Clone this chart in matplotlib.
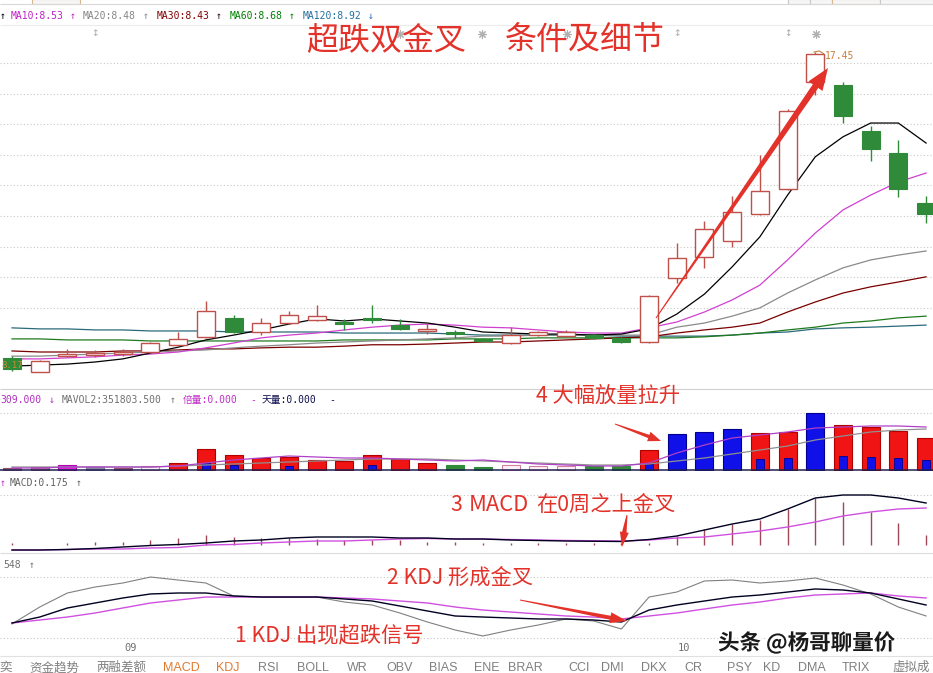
import numpy as np
import matplotlib
matplotlib.use("Agg")
import matplotlib.pyplot as plt
from matplotlib.patches import Polygon, Rectangle
from matplotlib.transforms import blended_transform_factory
import matplotlib.patheffects as pe

# ---------------- daily bars ----------------
opens  = [8.58, 8.18, 8.63, 8.66, 8.69, 8.75, 8.95, 9.18, 9.74, 9.33, 9.59, 9.68,
          9.62, 9.74, 9.53, 9.36, 9.33, 9.13, 9.01, 9.24, 9.21, 9.24, 9.16, 9.04,
          10.90, 11.51, 11.97, 12.75, 13.48, 16.58, 16.49, 15.16, 14.52, 13.07]
highs  = [8.63, 8.52, 8.84, 8.81, 8.84, 9.04, 9.33, 10.23, 9.82, 9.74, 9.94, 10.11,
          9.71, 10.11, 9.71, 9.59, 9.39, 9.16, 9.48, 9.36, 9.39, 9.27, 9.18, 10.40,
          11.91, 12.55, 13.27, 14.46, 15.80, 17.45, 16.58, 15.30, 14.90, 13.27]
lows   = [8.20, 8.17, 8.60, 8.61, 8.63, 8.72, 8.92, 9.16, 9.30, 9.24, 9.56, 9.65,
          9.39, 9.59, 9.39, 9.27, 9.16, 9.04, 8.98, 9.21, 9.18, 9.13, 9.01, 9.01,
          10.75, 11.19, 11.80, 12.72, 13.45, 16.20, 15.39, 14.29, 13.25, 12.49]
closes = [8.26, 8.49, 8.69, 8.72, 8.75, 9.01, 9.13, 9.94, 9.33, 9.59, 9.82, 9.79,
          9.56, 9.68, 9.42, 9.42, 9.27, 9.07, 9.24, 9.33, 9.33, 9.16, 9.04, 10.37,
          11.48, 12.32, 12.81, 13.42, 15.74, 17.40, 15.59, 14.64, 13.48, 12.75]

# moving averages of price
ma5   = [8.34, 8.37, 8.40, 8.46, 8.55, 8.72, 8.89, 9.10, 9.24, 9.39, 9.56, 9.71,
         9.65, 9.71, 9.65, 9.59, 9.47, 9.33, 9.30, 9.27, 9.27, 9.24, 9.27, 9.42,
         9.85, 10.43, 11.22, 12.09, 13.30, 14.41, 14.99, 15.39, 15.39, 14.81]
ma10  = [8.55, 8.55, 8.58, 8.61, 8.66, 8.69, 8.75, 8.87, 9.01, 9.16, 9.24, 9.30,
         9.39, 9.47, 9.53, 9.56, 9.53, 9.47, 9.45, 9.39, 9.33, 9.30, 9.30, 9.45,
         9.62, 9.91, 10.26, 10.69, 11.42, 12.20, 12.87, 13.30, 13.68, 13.94]
ma20  = [8.63, 8.63, 8.66, 8.69, 8.72, 8.75, 8.78, 8.81, 8.87, 8.92, 8.96, 9.01,
         9.04, 9.07, 9.10, 9.13, 9.16, 9.21, 9.21, 9.24, 9.24, 9.24, 9.24, 9.24,
         9.47, 9.59, 9.79, 10.03, 10.46, 10.84, 11.19, 11.42, 11.56, 11.68]
ma30  = [8.78, 8.75, 8.75, 8.75, 8.78, 8.78, 8.81, 8.84, 8.84, 8.87, 8.89, 8.89,
         8.92, 8.96, 8.96, 8.98, 9.01, 9.04, 9.04, 9.07, 9.10, 9.13, 9.16, 9.19,
         9.30, 9.39, 9.47, 9.59, 9.91, 10.20, 10.46, 10.64, 10.78, 10.93]
ma60  = [9.13, 9.13, 9.10, 9.10, 9.10, 9.07, 9.07, 9.07, 9.07, 9.07, 9.07, 9.07,
         9.10, 9.10, 9.10, 9.10, 9.13, 9.13, 9.13, 9.16, 9.16, 9.16, 9.16, 9.16,
         9.16, 9.19, 9.24, 9.30, 9.39, 9.47, 9.59, 9.65, 9.74, 9.79]
ma120 = [9.45, 9.42, 9.42, 9.39, 9.39, 9.36, 9.36, 9.36, 9.33, 9.33, 9.33, 9.33,
         9.30, 9.30, 9.30, 9.30, 9.27, 9.24, 9.24, 9.24, 9.24, 9.24, 9.21, 9.21,
         9.21, 9.21, 9.24, 9.30, 9.33, 9.42, 9.45, 9.47, 9.50, 9.53]

# ---------------- volume ----------------
volume = [200000, 300000, 500000, 300000, 200000, 400000, 700000, 2100000, 1500000,
          1200000, 1300000, 1000000, 900000, 1500000, 1100000, 700000, 500000, 300000,
          500000, 400000, 400000, 400000, 400000, 2000000, 3600000, 3800000, 4100000,
          3700000, 3800000, 5700000, 4500000, 4300000, 3900000, 3200000]
volume_inner = [0, 0, 0, 0, 0, 0, 0, 700000, 500000, 0, 400000, 0, 0, 500000, 0, 0,
                0, 0, 0, 0, 0, 0, 0, 600000, 0, 0, 0, 1100000, 1200000, 0, 1400000,
                1300000, 1200000, 1000000]
volume_kind = ['d', 'd', 'm', 's', 'd', 'p', 'r', 'r', 'r', 'r', 'r', 'r', 'r', 'r',
               'r', 'r', 'g', 'g', 'p', 'p', 'p', 'g', 'g', 'r', 'b', 'b', 'b', 'r',
               'r', 'b', 'r', 'r', 'r', 'r']
mavol1 = [200000, 200000, 300000, 300000, 300000, 300000, 400000, 700000, 1000000,
          1200000, 1400000, 1300000, 1200000, 1200000, 1100000, 1000000, 900000,
          1000000, 800000, 600000, 500000, 400000, 400000, 700000, 1700000, 2500000,
          3200000, 3500000, 3800000, 4200000, 4300000, 4400000, 4400000, 4300000]
mavol2 = [300000, 300000, 300000, 300000, 300000, 300000, 400000, 500000, 600000,
          700000, 800000, 900000, 1000000, 1100000, 1100000, 1100000, 1000000, 900000,
          800000, 700000, 600000, 500000, 500000, 600000, 900000, 1200000, 1600000,
          2000000, 2400000, 3000000, 3400000, 3800000, 4000000, 4100000]

# ---------------- MACD ----------------
dif  = [-0.20, -0.20, -0.18, -0.14, -0.08, -0.02, 0.02, 0.08, 0.16, 0.20, 0.28, 0.32,
        0.32, 0.32, 0.28, 0.28, 0.24, 0.24, 0.20, 0.18, 0.16, 0.15, 0.14, 0.22,
        0.36, 0.60, 0.84, 1.04, 1.44, 1.88, 2.00, 2.00, 1.88, 1.68]
dea  = [-0.20, -0.20, -0.18, -0.16, -0.16, -0.12, -0.10, 0.00, 0.02, 0.08, 0.12, 0.16,
        0.16, 0.20, 0.24, 0.26, 0.24, 0.24, 0.22, 0.20, 0.18, 0.17, 0.16, 0.20,
        0.28, 0.32, 0.44, 0.56, 0.72, 0.92, 1.16, 1.32, 1.44, 1.48]
macd = [0.08, 0.00, 0.08, 0.12, 0.12, 0.20, 0.28, 0.40, 0.32, 0.28, 0.28, 0.24,
        0.20, 0.20, 0.20, 0.12, 0.12, 0.08, 0.08, 0.08, 0.08, 0.08, 0.08, 0.08,
        0.36, 0.64, 0.84, 1.00, 1.44, 1.88, 1.72, 1.32, 0.88, 0.40]

# ---------------- KDJ ----------------
k_line = [24.6, 34.4, 49.2, 57.4, 65.6, 72.2, 73.8, 73.8, 68.9, 67.2, 67.2, 67.2,
          64.0, 60.7, 52.5, 44.3, 36.1, 34.4, 32.8, 31.2, 31.2, 29.5, 26.2, 45.9,
          54.1, 60.7, 67.2, 70.5, 75.4, 80.4, 78.7, 73.8, 64.0, 54.1]
d_line = [24.6, 29.5, 34.4, 41.0, 49.2, 57.4, 62.3, 67.2, 67.2, 67.2, 67.2, 67.2,
          65.6, 64.0, 60.7, 57.4, 50.8, 45.9, 42.6, 39.4, 36.1, 34.4, 31.2, 36.1,
          41.0, 47.6, 54.1, 59.0, 65.6, 70.5, 72.2, 73.8, 68.9, 65.6]
j_line = [23.0, 50.8, 73.8, 83.6, 90.2, 100.0, 95.1, 90.2, 68.9, 67.2, 67.2, 67.2,
          59.0, 54.1, 41.0, 26.2, 13.1, 3.3, 13.1, 21.3, 31.2, 27.9, 14.8, 67.2,
          75.4, 93.5, 95.1, 90.2, 93.5, 98.4, 86.9, 72.2, 50.8, 36.1]

month_labels = {4: "09", 24: "10"}

header_ma = [("↑", "#000000"), ("MA10:8.53", "#c020c8"), ("↑", "#c020c8"),
             ("MA20:8.48", "#858585"), ("↑", "#858585"), ("MA30:8.43", "#800000"),
             ("↑", "#300000"), ("MA60:8.68", "#008000"), ("↑", "#008000"),
             ("MA120:8.92", "#2070a0"), ("↓", "#2070c0")]
header_vol = [("309.000", "#b030c0"), ("↓", "#b030c0"), ("MAVOL2:351803.500", "#707070"),
              ("↑", "#707070"), ("倍量:0.000", "#c030c8"), ("-", "#c030c8"),
              ("天量:0.000", "#101050"), ("-", "#101050")]
tab_labels = ["奕", "资金趋势", "两融差额", "MACD", "KDJ", "RSI", "BOLL", "WR", "OBV",
              "BIAS", "ENE", "BRAR", "CCI", "DMI", "DKX", "CR", "PSY", "KD", "DMA",
              "TRIX", "虚拟成"]
tab_active = {"MACD", "KDJ"}

# ---------------- layout ----------------
W, H = 933, 673
XMIN, XMAX = -0.433, 33.25
MONO = ["DejaVu Sans Mono", "Noto Sans CJK SC"]
CJK = ["Noto Sans CJK SC", "DejaVu Sans"]
SANS = ["Liberation Sans", "Noto Sans CJK SC"]
RED = "#e3322a"

fig = plt.figure(figsize=(W / 100, H / 100), dpi=100, facecolor="white")


def panel(top, bottom):
    ax = fig.add_axes([0, 1 - bottom / H, 1, (bottom - top) / H])
    ax.set_xlim(XMIN, XMAX)
    ax.axis("off")
    ax.patch.set_alpha(0)
    return ax


ax_main = panel(27, 388)
ax_vol = panel(389, 471)
ax_macd = panel(472, 553)
ax_kdj = panel(553, 640)

ov = fig.add_axes([0, 0, 1, 1], zorder=10)
ov.set_xlim(0, W)
ov.set_ylim(H, 0)
ov.axis("off")
ov.patch.set_alpha(0)

x = np.arange(len(closes))
o, h, l, c = map(np.asarray, (opens, highs, lows, closes))
up = c >= o
BW = 0.65
dotted = dict(color="#c8c8c8", lw=0.8, linestyle=(0, (1, 2)))

# ---------------- main price panel ----------------
ax_main.set_ylim(7.706, 18.175)
for g in 10.03 + 0.8875 * np.arange(9):
    ax_main.axhline(g, **dotted, zorder=0)

ma_styles = [(ma120, "#2a6a7a", 0.9), (ma60, "#1f7a1f", 0.9), (ma30, "#7a0000", 0.9),
             (ma20, "#8a8a8a", 0.9), (ma10, "#d040d0", 0.9), (ma5, "#000000", 0.9)]
for series, col, lw in ma_styles:
    ax_main.plot(x, series, color=col, lw=lw, zorder=2)

UPC, DNC = "#c0504a", "#2f8a3a"
for i in x:
    if up[i]:
        top, bot = c[i], o[i]
        ax_main.vlines(i, top, h[i], color=UPC, lw=1, zorder=3)
        ax_main.vlines(i, l[i], bot, color=UPC, lw=1, zorder=3)
        ax_main.bar(i, max(top - bot, 0.02), bottom=bot, width=BW, facecolor="white",
                    edgecolor=UPC, lw=1, zorder=4)
    else:
        ax_main.vlines(i, l[i], h[i], color=DNC, lw=1, zorder=3)
        ax_main.bar(i, o[i] - c[i], bottom=c[i], width=BW, facecolor=DNC,
                    edgecolor=DNC, lw=0.8, zorder=4)

# high / low markers
imax = int(np.argmax(h))
ax_main.plot([imax - 0.05, imax + 0.15, imax + 0.3], [h[imax], h[imax] + 0.03, h[imax] - 0.05],
             color="#c8803a", lw=0.8, zorder=5)
ax_main.text(imax + 0.35, h[imax] - 0.12, f"{h[imax]:.2f}", color="#c8803a",
             fontsize=7, family=MONO, ha="left", va="center", zorder=6)
imin = int(np.argmin(l))
ax_main.text(-0.38, l[imin] + 0.2, f"{l[imin]:.2f}", color="#d08a30", fontsize=6.5,
             family=MONO, ha="left", va="center", zorder=6)

# ---------------- volume panel ----------------
ax_vol.set_ylim(-100000, 8100000)
ax_vol.axhline(5700000, **dotted, zorder=0)
kind_colors = {"r": ("#f01414", "#b00000"), "g": ("#2f8a3a", "#2f8a3a"),
               "b": ("#1010e8", "#000090"), "m": ("#e020e0", "#b000b0"),
               "d": ("#b07090", "#905070"), "s": ("#8888a8", "#707090"),
               "p": ("#fff0f8", "#d080a0")}
for i in x:
    fc, ec = kind_colors[volume_kind[i]]
    ax_vol.bar(i, volume[i], width=BW, facecolor=fc, edgecolor=ec, lw=0.8, zorder=2)
    if volume_inner[i] > 0:
        ax_vol.bar(i, volume_inner[i], width=BW * 0.45, facecolor="#1010e8",
                   edgecolor="#000090", lw=0.6, zorder=3)
ax_vol.plot(x, mavol2, color="#909090", lw=0.9, zorder=4)
ax_vol.plot(x, mavol1, color="#b040c8", lw=0.9, zorder=4)
ax_vol.axhline(0, color="#202050", lw=1.1, zorder=5)

# ---------------- MACD panel ----------------
ax_macd.set_ylim(-0.32, 2.92)
ax_macd.axhline(2.0, **dotted, zorder=0)
ax_macd.vlines(x, 0, macd, color="#a04858", lw=1, zorder=2)
ax_macd.plot(x, dea, color="#d050e0", lw=1, zorder=3)
ax_macd.plot(x, dif, color="#000020", lw=1, zorder=4)

# ---------------- KDJ panel ----------------
ax_kdj.set_ylim(-3.28, 139.4)
ax_kdj.axhline(100, **dotted, zorder=0)
ax_kdj.axhline(0, **dotted, zorder=0)
ax_kdj.plot(x, j_line, color="#808080", lw=0.8, zorder=2)
ax_kdj.plot(x, d_line, color="#d050e0", lw=1, zorder=3)
ax_kdj.plot(x, k_line, color="#000020", lw=1, zorder=4)

mtrans = blended_transform_factory(ax_kdj.transData, ov.transData)
for i, lab in month_labels.items():
    ov.text(i + 0.05, 648, lab, transform=mtrans, color="#707070", fontsize=7.5,
            family=MONO, ha="left", va="center")

# ---------------- frame lines ----------------
ov.hlines(4, 0, W, color="#d8d8d8", lw=0.8)
for x0, x1, col in [(32, 80, "#d8b890"), (788, 810, "#c8c8c8"), (810, 832, "#c8c8c8"),
                    (832, 880, "#d8b890"), (880, 933, "#c8c8c8")]:
    ov.add_patch(Rectangle((x0, -1), x1 - x0, 5, facecolor="#f6f6f6", edgecolor=col, lw=0.8))
ov.hlines(25, 0, W, color="#ececec", lw=0.8)
ov.hlines(389, 0, W, color="#d0d0d0", lw=0.8)
ov.hlines(553, 0, W, color="#dcdcdc", lw=0.8)
ov.hlines(656, 0, W, color="#e0e0e0", lw=0.8)

# ---------------- panel headers ----------------
def put_row(y, pieces, xs, size=7):
    for (s, col), xx in zip(pieces, xs):
        ov.text(xx, y, s, color=col, fontsize=size, family=MONO, ha="left", va="center")


put_row(16, header_ma, [0, 11, 70, 83, 143, 157, 216, 230, 289, 303, 368])
put_row(400, header_vol, [0, 49, 62, 170, 183, 250, 262, 329])
put_row(483, [("↑", "#c030c8"), ("MACD:0.175", "#606060"), ("↑", "#606060")], [0, 10, 76])
put_row(565, [("548", "#707070"), ("↑", "#707070")], [3, 29])

# small event markers along the top of the price panel
for xx in [95, 677, 788]:
    ov.text(xx, 34, "↕", color="#a8a8a8", fontsize=6.5, ha="center", va="center",
            family=["DejaVu Sans"])
ov.plot([400, 482, 567, 816], [34, 34, 34, 34], linestyle="none", marker=(8, 2, 0),
        markersize=6, markeredgecolor="#b0b0b0", markeredgewidth=0.8, zorder=1)

# ---------------- annotations ----------------
def taper_arrow(x0, y0, x1, y1, w0, w1, hw, hl, color=RED):
    p0 = np.array([x0, y0], float)
    p1 = np.array([x1, y1], float)
    d = (p1 - p0) / np.hypot(*(p1 - p0))
    n = np.array([-d[1], d[0]])
    b = p1 - d * hl
    pts = [p0 + n * w0 / 2, b + n * w1 / 2, b + n * hw / 2, p1,
           b - n * hw / 2, b - n * w1 / 2, p0 - n * w0 / 2]
    ov.add_patch(Polygon(pts, closed=True, facecolor=color, edgecolor="none", zorder=6))


taper_arrow(656, 318, 828, 68, 1.0, 6.5, 17, 22)
taper_arrow(615, 424, 661, 441, 1.0, 3.5, 10, 13)
taper_arrow(627, 515, 622, 547, 1.0, 4.5, 9, 15)
taper_arrow(520, 600, 627, 621, 1.0, 4.0, 11, 17)

ov.text(306, 40, "超跌双金叉", color=RED, fontsize=23, family=CJK, ha="left", va="center", zorder=7)
ov.text(505, 40, "条件及细节", color=RED, fontsize=23, family=CJK, ha="left", va="center", zorder=7)
ov.text(536, 396, "4 大幅放量拉升", color=RED, fontsize=15.3, family=CJK, ha="left", va="center")
ov.text(450, 505, "3", color=RED, fontsize=15.3, family=CJK, ha="left", va="center")
ov.text(469, 505, "MACD", color=RED, fontsize=15.8, family=CJK, ha="left", va="center")
ov.text(536, 505, "在0周之上金叉", color=RED, fontsize=15.3, family=CJK, ha="left", va="center")
ov.text(387, 578, "2 KDJ 形成金叉", color=RED, fontsize=15.3, family=CJK, ha="left", va="center")
ov.text(235, 636, "1 KDJ 出现超跌信号", color=RED, fontsize=15.3, family=CJK, ha="left", va="center")

ov.text(718, 643, "头条 @杨哥聊量价", color="#1a1a1a", fontsize=15.5, family=CJK,
        weight="bold", ha="left", va="center", zorder=8,
        path_effects=[pe.withStroke(linewidth=3, foreground="white")])

# ---------------- bottom tab bar ----------------
tab_x = [6, 54, 121, 181, 228, 268, 313, 357, 400, 443, 487, 525, 579, 612, 654, 693,
         740, 772, 812, 856, 911]
for s, xx in zip(tab_labels, tab_x):
    col = "#e07a30" if s in tab_active else "#808080"
    ov.text(xx, 668, s, color=col, fontsize=9, family=SANS, ha="center", va="center")

fig.savefig("out.png", dpi=100, facecolor="white")
